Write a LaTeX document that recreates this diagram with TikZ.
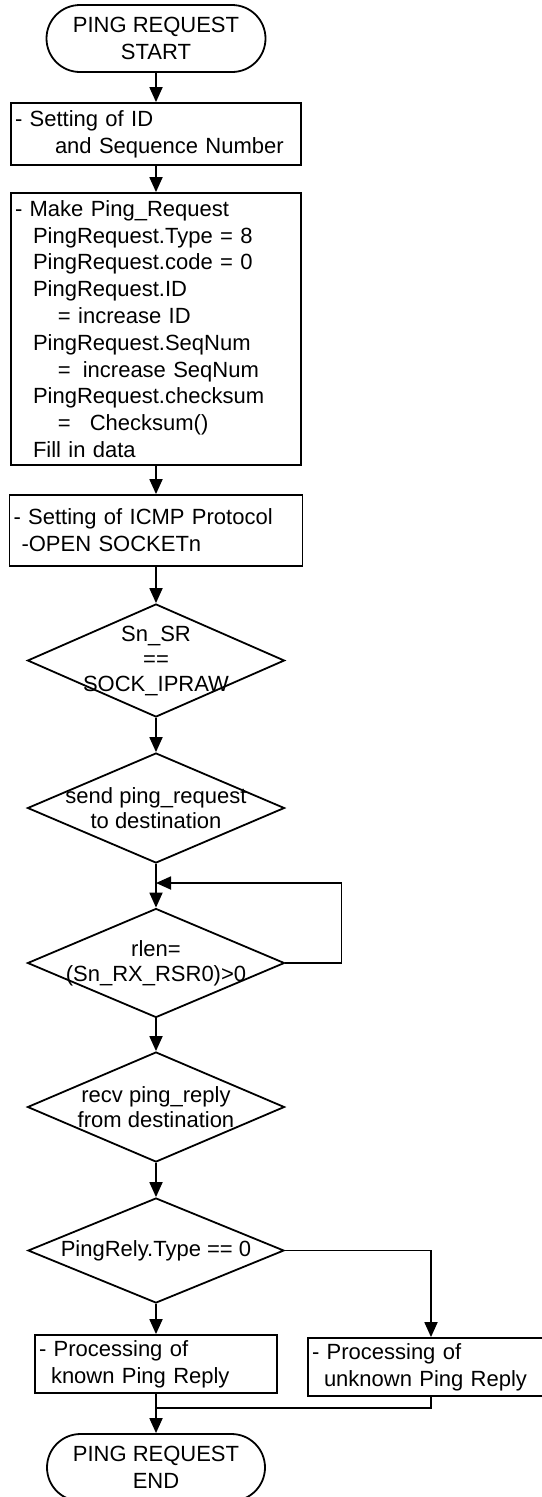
\documentclass[tikz,border=0pt]{standalone}
\usepackage{fontspec}
\setmainfont{Liberation Sans}
\usetikzlibrary{arrows.meta}
\usetikzlibrary{shapes.geometric,shapes.misc}
\tikzset{>={Triangle[width=13pt,length=15pt]}}

\begin{document}
\begin{tikzpicture}[x=1pt, y=-1pt, line width=1.8pt,
  every node/.style={font=\fontsize{22}{26.8}\selectfont},
  term/.style={rounded rectangle, draw, minimum width=219pt, minimum height=67pt,
    align=center, inner sep=0pt},
  procbox/.style={rectangle, draw, align=left, inner xsep=4pt, inner ysep=0pt},
  decision/.style={diamond, draw, minimum width=257pt, minimum height=110pt, inner sep=0pt},
  dtext/.style={label={[align=center, font=\fontsize{22}{25}\selectfont]center:#1}}]

  \newcommand\X{156}

  \useasboundingbox (0,0) rectangle (541,1497);

  \node[term] (start) at (\X, 38.5) {PING REQUEST\\START};

  \node[procbox, minimum width=290pt, minimum height=62pt, text width=282pt]
    (setid) at (\X, 134) {- Setting of ID\\\hspace*{40pt}and Sequence Number};

  \node[procbox, minimum width=290pt, minimum height=272pt, text width=282pt]
    (mkreq) at (\X, 329) {- Make Ping\_Request\\
    \hspace*{18pt}PingRequest.Type = 8\\
    \hspace*{18pt}PingRequest.code = 0\\
    \hspace*{18pt}PingRequest.ID\\
    \hspace*{43pt}= increase ID\\
    \hspace*{18pt}PingRequest.SeqNum\\
    \hspace*{43pt}=\hspace{12pt}increase SeqNum\\
    \hspace*{18pt}PingRequest.checksum\\
    \hspace*{43pt}=\hspace{19pt}Checksum()\\
    \hspace*{18pt}Fill in data};

  \node[procbox, minimum width=293pt, minimum height=71pt, text width=285pt]
    (icmp) at (\X, 530.5) {- Setting of ICMP Protocol\\\hspace*{8pt}-OPEN SOCKETn};

  \node[decision, minimum height=113pt, dtext={Sn\_SR\\==\\SOCK\_IPRAW}]
    (chksr) at (\X, 660.5) {};
  \node[decision, dtext={send ping\_request\\to destination}]
    (send) at (\X, 808) {};
  \node[decision, minimum height=109pt, dtext={rlen=\\(Sn\_RX\_RSR0)>0}]
    (rlen) at (\X, 963) {};
  \node[decision, dtext={recv ping\_reply\\from destination}]
    (recv) at (\X, 1107) {};
  \node[decision, minimum width=256pt, minimum height=105pt, dtext={PingRely.Type == 0}]
    (type) at (\X, 1250.5) {};

  \node[procbox, minimum width=242pt, minimum height=58pt, text width=234pt]
    (known) at (\X, 1364) {- Processing of\\\hspace*{12pt}known Ping Reply};
  \node[procbox, minimum width=246pt, minimum height=58pt, text width=238pt]
    (unknown) at (431, 1367) {- Processing of\\\hspace*{12pt}unknown Ping Reply};

  \node[term, minimum width=218pt] (stop) at (\X, 1467.5) {PING REQUEST\\END};

  \coordinate (back) at (\X, 883);

  \draw[->] (start) -- (setid);
  \draw[->] (setid) -- (mkreq);
  \draw[->] (mkreq) -- (icmp);
  \draw[->] (icmp) -- (chksr);
  \draw[->] (chksr) -- (send);
  \draw[->] (send) -- (rlen);
  \draw[->] (rlen.east) -- ++(56,0) |- (back);
  \draw[->] (rlen) -- (recv);
  \draw[->] (recv) -- (type);
  \draw[->] (type) -- (known);
  \draw[->] (type.east) -| (unknown.north);
  \draw (unknown.south) -- ++(0,11) -| (known.south);
  \draw[->] (known) -- (stop);

\end{tikzpicture}
\end{document}
